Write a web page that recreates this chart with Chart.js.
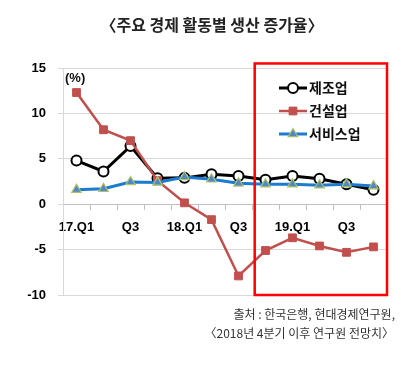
<!DOCTYPE html>
<html><head><meta charset="utf-8">
<script src="https://cdn.jsdelivr.net/npm/chart.js@4/dist/chart.umd.min.js"></script>
<style>html,body{margin:0;padding:0;background:#fff}#wrap{width:420px;height:365px;position:relative}canvas{display:block}</style>
</head><body><div id="wrap"><canvas id="c" width="420" height="365"></canvas></div>
<script>
const chartTitle = '〈주요 경제 활동별 생산 증가율〉';
const categories = ['17.Q1','17.Q2','17.Q3','17.Q4','18.Q1','18.Q2','18.Q3','18.Q4','19.Q1','19.Q2','19.Q3','19.Q4'];
const tickLabels = ['17.Q1','','Q3','','18.Q1','','Q3','','19.Q1','','Q3',''];
const seriesNames = ['제조업','건설업','서비스업'];
const manufacturing = [4.8, 3.6, 6.4, 2.85, 2.9, 3.3, 3.1, 2.7, 3.1, 2.8, 2.2, 1.6];
const construction = [12.3, 8.2, 7.0, 2.6, 0.15, -1.7, -7.9, -5.1, -3.7, -4.6, -5.3, -4.7];
const services = [1.6, 1.7, 2.45, 2.4, 3.0, 2.75, 2.3, 2.2, 2.2, 2.1, 2.2, 2.0];
const yMin = -10, yMax = 15, yStep = 5;
const unitLabel = '(%)';
const sourceLines = ['출처 : 한국은행, 현대경제연구원,', '〈2018년 4분기 이후 연구원 전망치〉'];
const highlightFromIndex = 6.6;

const KR = "'Noto Sans CJK KR', 'Noto Sans', sans-serif";
const NUM = "'Liberation Sans', Arial, sans-serif";

const decorPlugin = {
  id: 'decor',
  afterDatasetsDraw(chart) {
    const ctx = chart.ctx, x = chart.scales.x, y = chart.scales.y, ca = chart.chartArea;
    ctx.save();
    ctx.strokeStyle = '#FF0000';
    ctx.lineWidth = 2.5;
    const l = x.getPixelForValue(highlightFromIndex);
    const t = y.getPixelForValue(15.5);
    ctx.strokeRect(l, t, ca.right - l, y.getPixelForValue(-10) - t);
    ctx.restore();
  },
  afterDraw(chart) {
    const ctx = chart.ctx, ca = chart.chartArea;
    ctx.save();
    ctx.fillStyle = '#222';
    ctx.font = "bold 16px " + KR;
    ctx.textAlign = 'center'; ctx.textBaseline = 'middle';
    ctx.fillText(chartTitle, 212, 25);
    ctx.fillStyle = '#111';
    ctx.font = "bold 13px " + NUM;
    ctx.textAlign = 'left';
    ctx.fillText(unitLabel, ca.left + 2, ca.top + 10);
    ctx.fillStyle = '#333';
    ctx.font = "12px " + KR;
    ctx.textAlign = 'right';
    ctx.fillText(sourceLines[0], 395, 314);
    ctx.fillText(sourceLines[1], 394, 333);
    const ys = [88, 111, 134];
    chart.data.datasets.forEach((ds, i) => {
      const yy = ys[i];
      ctx.strokeStyle = ds.borderColor;
      ctx.lineWidth = ds.borderWidth;
      ctx.beginPath(); ctx.moveTo(279, yy); ctx.lineTo(307, yy); ctx.stroke();
      ctx.fillStyle = ds.pointBackgroundColor;
      ctx.strokeStyle = ds.pointBorderColor;
      ctx.lineWidth = ds.pointBorderWidth;
      Chart.helpers.drawPoint(ctx, {pointStyle: ds.pointStyle, radius: ds.pointRadius, borderWidth: ds.pointBorderWidth, rotation: 0}, 293, yy);
      ctx.fillStyle = '#111';
      ctx.font = "bold 14px " + KR;
      ctx.textAlign = 'left'; ctx.textBaseline = 'middle';
      ctx.fillText(ds.label, 309, yy);
    });
    ctx.restore();
  }
};

new Chart(document.getElementById('c'), {
  type: 'line',
  data: {
    labels: categories,
    datasets: [
      { label: seriesNames[0], data: manufacturing, borderColor: '#000', borderWidth: 3,
        pointStyle: 'circle', pointRadius: 5, pointBackgroundColor: '#fff', pointBorderColor: '#000', pointBorderWidth: 2, order: 2 },
      { label: seriesNames[1], data: construction, borderColor: '#C0504D', borderWidth: 2.5,
        pointStyle: 'rect', pointRadius: 5.5, pointBackgroundColor: '#C0504D', pointBorderColor: '#C0504D', pointBorderWidth: 1, order: 1 },
      { label: seriesNames[2], data: services, borderColor: '#1C7AD0', borderWidth: 3,
        pointStyle: 'triangle', pointRadius: 5.5, pointBackgroundColor: '#5585C5', pointBorderColor: '#A9C56A', pointBorderWidth: 1.2, order: 0 }
    ]
  },
  options: {
    responsive: false,
    animation: false,
    devicePixelRatio: 1,
    layout: { padding: { top: 68, right: 33, bottom: 70, left: 0 } },
    plugins: { legend: { display: false }, title: { display: false }, tooltip: { enabled: false } },
    elements: { line: { tension: 0 } },
    scales: {
      x: {
        type: 'category',
        position: { y: 0 },
        offset: true,
        grid: { drawOnChartArea: false, drawTicks: true, tickLength: 5, color: '#BFBFBF', offset: true },
        border: { display: true, color: '#BFBFBF', width: 1 },
        ticks: { autoSkip: false, maxRotation: 0, minRotation: 0, padding: 10,
          color: '#000', font: { family: NUM, size: 13, weight: 'bold' },
          callback: (v, i) => tickLabels[i] },
        afterFit: (s) => { s.height = 0; }
      },
      y: {
        min: yMin, max: yMax,
        ticks: { stepSize: yStep, padding: 12, color: '#000', font: { family: NUM, size: 13, weight: 'bold' } },
        grid: { color: '#D9D9D9', tickLength: 5, lineWidth: 1 },
        border: { display: true, color: '#D9D9D9', width: 1 },
        afterFit: (s) => { s.width = 63; }
      }
    }
  },
  plugins: [decorPlugin]
});
</script></body></html>
